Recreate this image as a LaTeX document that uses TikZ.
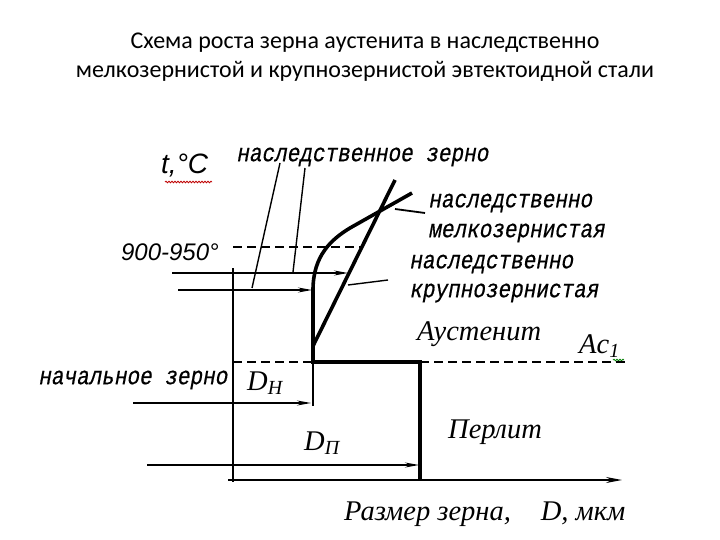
\documentclass[tikz,border=0pt]{standalone}
\usepackage{fontspec}
\usepackage{graphicx}
\setmainfont{Liberation Serif}
\newfontfamily\titlefont{Carlito}
\newfontfamily\monoit{Liberation Mono}[FakeSlant=0.22, FakeBold=0.6]
\newfontfamily\sansf{Liberation Sans}
\newcommand{\mtxt}[1]{\scalebox{1}[1.2]{#1}}
\usetikzlibrary{arrows.meta,decorations.pathmorphing}
\tikzset{
  thin line/.style={line width=1.4pt},
  thick line/.style={line width=3.6pt},
  dash line/.style={line width=1.4pt, dash pattern=on 9pt off 5pt},
  arr/.style={line width=1.4pt, -{Stealth[length=14pt,width=5pt]}},
  monolbl/.style={font=\monoit\fontsize{21}{21}\selectfont, inner sep=0pt, anchor=west},
  serlbl/.style={font=\itshape\fontsize{28.5}{28.5}\selectfont, inner sep=0pt, anchor=west},
  ttl/.style={font=\titlefont\fontsize{24}{24}\selectfont, inner sep=0pt},
  wavy/.style={decorate, decoration={snake, amplitude=0.8pt, segment length=3pt}, line width=0.8pt}
}
\begin{document}
\begin{tikzpicture}[x=1pt,y=-1pt]
\useasboundingbox[fill=white] (0,0) rectangle (720,540);
% title
\node[ttl] (t1) at (365,43) {Схема роста зерна аустенита в наследственно};
\node[ttl] (t2) at (365,71) {мелкозернистой и крупнозернистой эвтектоидной стали};
% labels
\node[font=\sansf\itshape\fontsize{28}{28}\selectfont, inner sep=0pt, anchor=west] (tc) at (161,166) {t,°C};
\node[monolbl] (lz) at (236,157) {\mtxt{наследственное зерно}};
\node[monolbl] (lm1) at (428,203) {\mtxt{наследственно}};
\node[monolbl] (lm2) at (428,233) {\mtxt{мелкозернистая}};
\node[monolbl] (lk1) at (409,264) {\mtxt{наследственно}};
\node[monolbl] (lk2) at (409,293) {\mtxt{крупнозернистая}};
\node[font=\sansf\itshape\fontsize{24}{24}\selectfont, inner sep=0pt, anchor=east] (t900) at (219,252) {900-950°};
\node[monolbl] (ln) at (38,380) {\mtxt{начальное зерно}};
\node[serlbl] (la) at (417,334) {Аустенит};
\node[serlbl] (lac) at (579,346) {Ac\textsubscript{\fontsize{20}{20}\selectfont 1}};
\node[serlbl] (lp) at (448,432) {Перлит};
\node[serlbl] (ldh) at (247,383) {D\textsubscript{\fontsize{20}{20}\selectfont Н}};
\node[serlbl] (ldp) at (304,443) {D\textsubscript{\fontsize{20}{20}\selectfont П}};
\node[serlbl] (lx) at (344,514) {Размер зерна,\hspace{0.8em} D, мкм};
% spell-check squiggles
\coordinate (w1) at (165,182); \coordinate (w2) at (212,182);
\draw[wavy, red!75!black] (w1) -- (w2);
\coordinate (g1) at (613,360); \coordinate (g2) at (624,360);
\draw[wavy, green!50!black] (g1) -- (g2);
% geometry coordinates
\coordinate (ytop) at (233,268);
\coordinate (ybot) at (233,482);
\coordinate (xl) at (228,480);
\coordinate (xr) at (622,480);
\coordinate (c0) at (313,362);
\coordinate (c1) at (313,290);
\coordinate (c2) at (350,228);
\coordinate (c3) at (412,193);
\coordinate (k0) at (313,346);
\coordinate (k1) at (395,180);
\coordinate (h1) at (420,362);
\coordinate (h2) at (420,480);
\coordinate (d1a) at (233,247);
\coordinate (d1b) at (361,247);
\coordinate (d2a) at (233,362);
\coordinate (d3b) at (625,362);
\coordinate (a1s) at (172,273); \coordinate (a1e) at (348,273);
\coordinate (a2s) at (178,290); \coordinate (a2e) at (312,290);
\coordinate (a3s) at (133,403); \coordinate (a3e) at (311,403);
\coordinate (tick) at (313,406);
\coordinate (a4s) at (147,465); \coordinate (a4e) at (419,465);
\coordinate (l1a) at (280,163); \coordinate (l1b) at (252,288);
\coordinate (l2a) at (305,168); \coordinate (l2b) at (293,272);
\coordinate (l3a) at (395,209); \coordinate (l3b) at (425,213);
\coordinate (l4a) at (348,285); \coordinate (l4b) at (388,280);
% axes
\draw[thin line] (ytop) -- (ybot);
\draw[line width=1.4pt, -{Stealth[length=16pt,width=6pt]}] (xl) -- (xr);
% dashed
\draw[dash line] (d1a) -- (d1b);
\draw[dash line] (d2a) -- (c0);
\draw[dash line] (h1) -- (d3b);
% thick curves
\draw[thick line, line join=round] (c0) -- (c1) .. controls (313,255) and (332,239) .. (c2) -- (c3);
\draw[thick line] (k0) -- (k1);
\draw[thick line, line cap=rect] (c0) -- (h1);
\draw[thick line] (h1) -- (h2);
% arrows
\draw[arr] (a1s) -- (a1e);
\draw[arr] (a2s) -- (a2e);
\draw[arr] (a3s) -- (a3e);
\draw[thin line] (c0) -- (tick);
\draw[arr] (a4s) -- (a4e);
% leaders
\draw[thin line] (l1a) -- (l1b);
\draw[thin line] (l2a) -- (l2b);
\draw[line width=1.8pt] (l3a) -- (l3b);
\draw[thin line] (l4a) -- (l4b);
\end{tikzpicture}
\end{document}
